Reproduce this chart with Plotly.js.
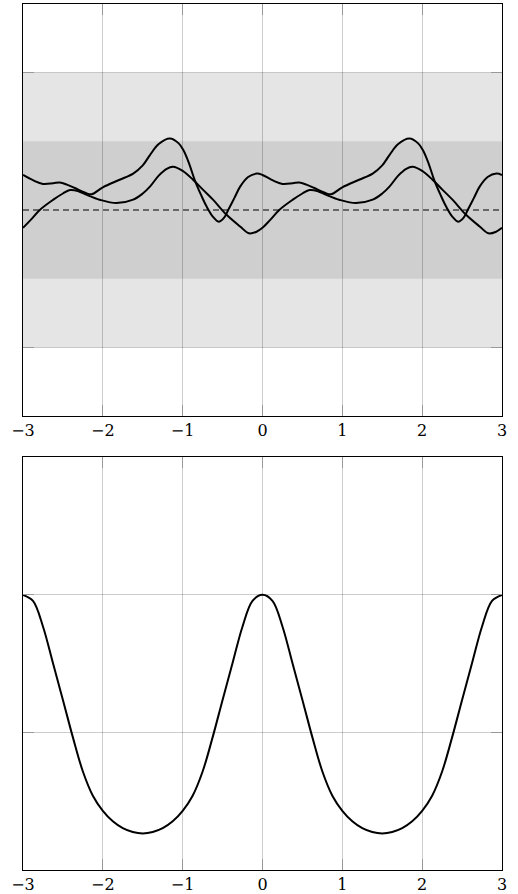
<!DOCTYPE html>
<html>
<head>
<meta charset="utf-8">
<script src="https://cdn.plot.ly/plotly-3.0.1.min.js"></script>
<style>html,body{margin:0;padding:0;background:#fff;}#chart{width:518px;height:894px;}</style>
</head>
<body>
<div id="chart"></div>
<script>
// ---- top panel: two sample paths ----
const sampleA_x = [-3,-2.87,-2.75,-2.62,-2.54,-2.45,-2.35,-2.22,-2.14,-2.0,-1.79,-1.62,-1.5,-1.41,-1.3,-1.16,-1.05,-0.99,-0.92,-0.85,-0.77,-0.70,-0.62,-0.55,-0.48,-0.43,-0.35,-0.28,-0.18,-0.07,
  0,0.13,0.25,0.38,0.46,0.55,0.65,0.78,0.86,1.0,1.21,1.38,1.5,1.59,1.7,1.84,1.95,2.01,2.08,2.15,2.23,2.30,2.38,2.45,2.52,2.57,2.65,2.72,2.82,2.93,3];
const sampleA_y = [0.51,0.43,0.38,0.39,0.40,0.37,0.32,0.25,0.23,0.33,0.44,0.53,0.65,0.80,0.96,1.04,0.97,0.87,0.68,0.44,0.22,0.05,-0.10,-0.17,-0.11,0,0.18,0.34,0.48,0.53,
  0.51,0.43,0.38,0.39,0.40,0.37,0.32,0.25,0.23,0.33,0.44,0.53,0.65,0.80,0.96,1.04,0.97,0.87,0.68,0.44,0.22,0.05,-0.10,-0.17,-0.11,0,0.18,0.34,0.48,0.53,0.51];
const sampleB_x = [-3,-2.9,-2.79,-2.62,-2.5,-2.41,-2.3,-2.2,-2.04,-1.83,-1.62,-1.5,-1.41,-1.3,-1.2,-1.12,-1.0,-0.87,-0.75,-0.62,-0.45,-0.28,-0.17,-0.08,
  0,0.1,0.21,0.38,0.5,0.59,0.7,0.8,0.96,1.17,1.38,1.5,1.59,1.7,1.8,1.88,2.0,2.13,2.25,2.38,2.55,2.72,2.83,2.92,3];
const sampleB_y = [-0.26,-0.14,0,0.15,0.24,0.29,0.27,0.22,0.15,0.10,0.15,0.24,0.34,0.50,0.60,0.63,0.57,0.44,0.30,0.15,-0.07,-0.24,-0.34,-0.32,
  -0.26,-0.14,0,0.15,0.24,0.29,0.27,0.22,0.15,0.10,0.15,0.24,0.34,0.50,0.60,0.63,0.57,0.44,0.30,0.15,-0.07,-0.24,-0.34,-0.32,-0.26];
const meanX = [-3, 3];
const meanY = [0, 0];
const bandInner = [-1, 1];
const bandOuter = [-2, 2];

// ---- bottom panel: covariance curve ----
const kernelX = [-3,-2.875,-2.75,-2.625,-2.5,-2.375,-2.25,-2.125,-2,-1.875,-1.75,-1.625,-1.5,-1.375,-1.25,-1.125,-1,-0.875,-0.75,-0.625,-0.5,-0.375,-0.25,-0.125,
  0,0.125,0.25,0.375,0.5,0.625,0.75,0.875,1,1.125,1.25,1.375,1.5,1.625,1.75,1.875,2,2.125,2.25,2.375,2.5,2.625,2.75,2.875,3];
const kernelY = [1.0,0.978,0.885,0.752,0.618,0.482,0.358,0.270,0.215,0.177,0.152,0.138,0.133,0.138,0.152,0.177,0.215,0.270,0.358,0.482,0.618,0.752,0.885,0.978,
  1.0,0.978,0.885,0.752,0.618,0.482,0.358,0.270,0.215,0.177,0.152,0.138,0.133,0.138,0.152,0.177,0.215,0.270,0.358,0.482,0.618,0.752,0.885,0.978,1.0];

const xTickVals = [-3,-2,-1,0,1,2,3];
const xTickText = ['\u22123','\u22122','\u22121','0','1','2','3'];
const yTopTicks = [-2, 2];
const yBotTicks = [0.5, 1];

const lineStyle = {color:'#000', width:2, shape:'spline', smoothing:1};
const traces = [
  {x:meanX, y:meanY, xaxis:'x', yaxis:'y', mode:'lines', line:{color:'#000', width:1.2, dash:'6px,4px'}, hoverinfo:'skip'},
  {x:sampleA_x, y:sampleA_y, xaxis:'x', yaxis:'y', mode:'lines', line:lineStyle},
  {x:sampleB_x, y:sampleB_y, xaxis:'x', yaxis:'y', mode:'lines', line:lineStyle},
  {x:kernelX, y:kernelY, xaxis:'x2', yaxis:'y2', mode:'lines', line:lineStyle}
];

const serifFont = 'DejaVu Serif';
const gridCol = 'rgba(0,0,0,0.2)';
function xAxis(anchor){
  return {range:[-3,3], tickvals:xTickVals, ticktext:xTickText, showgrid:true, gridcolor:gridCol, gridwidth:1,
    zeroline:false, showline:true, linecolor:'#000', linewidth:1, mirror:'ticks', ticks:'inside', ticklen:11,
    tickcolor:'#999', tickwidth:1, anchor:anchor,
    tickfont:{family:serifFont, size:16, color:'#000'}};
}
function yAxis(domain, range, ticks, anchor){
  return {domain:domain, range:range, tickvals:ticks, showticklabels:false, showgrid:true, gridcolor:gridCol, gridwidth:1,
    zeroline:false, showline:true, linecolor:'#000', linewidth:1, mirror:'ticks', ticks:'inside', ticklen:11,
    tickcolor:'#999', tickwidth:1, anchor:anchor};
}

const layout = {
  width:518, height:894,
  margin:{l:23, r:16, t:4, b:24},
  paper_bgcolor:'#fff', plot_bgcolor:'#fff',
  showlegend:false,
  font:{family:serifFont, size:16, color:'#000'},
  xaxis: xAxis('y'),
  yaxis: yAxis([0.5243,1], [-3,3], yTopTicks, 'x'),
  xaxis2: xAxis('y2'),
  yaxis2: yAxis([0,0.4766], [0,1.5], yBotTicks, 'x2'),
  shapes:[
    {type:'rect', xref:'x', yref:'y', x0:meanX[0], x1:meanX[1], y0:bandOuter[0], y1:bandOuter[1], fillcolor:'#e5e5e5', line:{width:0}, layer:'below'},
    {type:'rect', xref:'x', yref:'y', x0:meanX[0], x1:meanX[1], y0:bandInner[0], y1:bandInner[1], fillcolor:'#cfcfcf', line:{width:0}, layer:'below'}
  ]
};
Plotly.newPlot('chart', traces, layout, {staticPlot:true, displayModeBar:false});
</script>
</body>
</html>
